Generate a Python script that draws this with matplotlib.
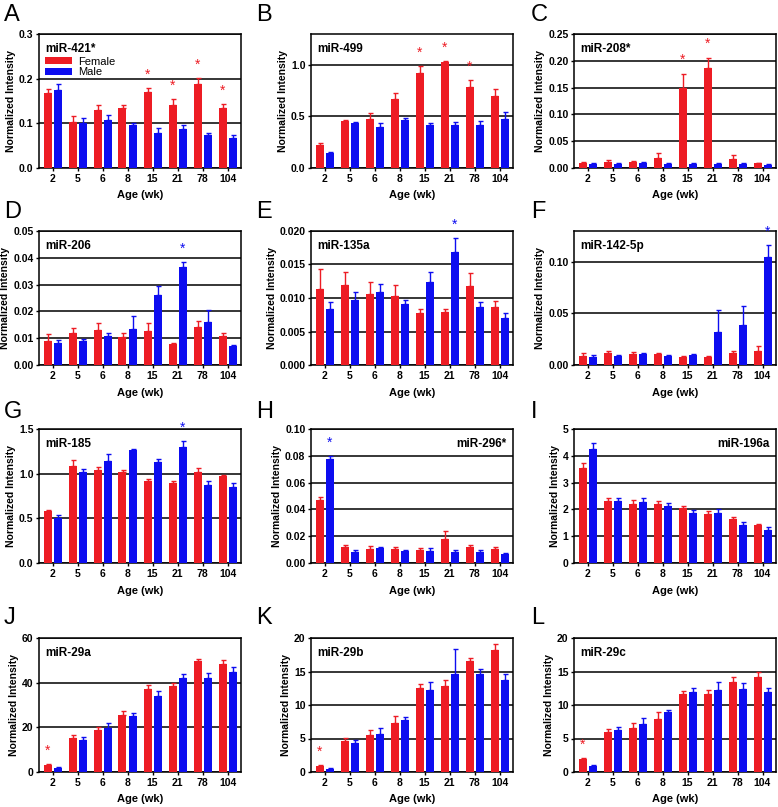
import matplotlib
matplotlib.use("Agg")
import matplotlib.pyplot as plt
import numpy as np

plt.rcParams['font.family'] = ['Liberation Sans', 'DejaVu Sans']

ages = ['2', '5', '6', '8', '15', '21', '78', '104']
letters = ['A', 'B', 'C', 'D', 'E', 'F', 'G', 'H', 'I', 'J', 'K', 'L']
mirnas = ['miR-421*', 'miR-499', 'miR-208*', 'miR-206', 'miR-135a', 'miR-142-5p',
          'miR-185', 'miR-296*', 'miR-196a', 'miR-29a', 'miR-29b', 'miR-29c']

# mean and SEM, female then male
A_f = [0.168, 0.103, 0.129, 0.135, 0.170, 0.140, 0.189, 0.135]
A_f_sem = [0.009, 0.013, 0.013, 0.007, 0.009, 0.014, 0.012, 0.008]
A_m = [0.175, 0.101, 0.107, 0.096, 0.079, 0.087, 0.073, 0.067]
A_m_sem = [0.012, 0.012, 0.012, 0.005, 0.011, 0.009, 0.005, 0.008]

B_f = [0.219, 0.457, 0.476, 0.666, 0.923, 1.029, 0.785, 0.701]
B_f_sem = [0.022, 0.009, 0.061, 0.064, 0.064, 0.006, 0.067, 0.067]
B_m = [0.141, 0.437, 0.395, 0.469, 0.415, 0.421, 0.415, 0.476]
B_m_sem = [0.017, 0.013, 0.045, 0.013, 0.022, 0.023, 0.042, 0.064]

C_f = [0.009, 0.012, 0.011, 0.018, 0.150, 0.186, 0.017, 0.009]
C_f_sem = [0.003, 0.002, 0.002, 0.010, 0.026, 0.020, 0.007, 0.001]
C_m = [0.007, 0.007, 0.009, 0.007, 0.008, 0.007, 0.008, 0.006]
C_m_sem = [0.002, 0.002, 0.002, 0.002, 0.002, 0.002, 0.001, 0.002]

D_f = [0.0089, 0.0119, 0.0129, 0.0104, 0.0126, 0.0080, 0.0143, 0.0108]
D_f_sem = [0.0027, 0.0020, 0.0027, 0.0017, 0.0032, 0.0003, 0.0022, 0.0013]
D_m = [0.0083, 0.0088, 0.0109, 0.0135, 0.0261, 0.0364, 0.0160, 0.0070]
D_m_sem = [0.0011, 0.0008, 0.0011, 0.0046, 0.0033, 0.0020, 0.0045, 0.0006]

E_f = [0.0114, 0.0119, 0.01055, 0.0103, 0.0078, 0.00795, 0.01185, 0.0087]
E_f_sem = [0.0030, 0.0020, 0.0019, 0.0017, 0.0006, 0.00045, 0.0019, 0.00085]
E_m = [0.00835, 0.00965, 0.01085, 0.0091, 0.0124, 0.0168, 0.0087, 0.0070]
E_m_sem = [0.00105, 0.0012, 0.0012, 0.00055, 0.00155, 0.00215, 0.0007, 0.00075]

F_f = [0.009, 0.012, 0.0106, 0.0103, 0.0077, 0.0081, 0.012, 0.0135]
F_f_sem = [0.003, 0.002, 0.002, 0.0017, 0.001, 0.0006, 0.002, 0.0045]
F_m = [0.008, 0.0087, 0.011, 0.009, 0.0094, 0.032, 0.039, 0.105]
F_m_sem = [0.0014, 0.0013, 0.0006, 0.0007, 0.0016, 0.021, 0.018, 0.011]

G_f = [0.578, 1.082, 1.037, 1.022, 0.922, 0.892, 1.022, 0.974]
G_f_sem = [0.015, 0.075, 0.034, 0.023, 0.015, 0.030, 0.041, 0.015]
G_m = [0.507, 1.022, 1.138, 1.261, 1.131, 1.302, 0.869, 0.851]
G_m_sem = [0.027, 0.027, 0.086, 0.015, 0.029, 0.060, 0.049, 0.041]

H_f = [0.047, 0.0118, 0.0108, 0.0105, 0.0098, 0.018, 0.0118, 0.0108]
H_f_sem = [0.002, 0.002, 0.0017, 0.0018, 0.0015, 0.0058, 0.0017, 0.0015]
H_m = [0.0773, 0.0085, 0.011, 0.0088, 0.009, 0.0085, 0.0085, 0.0068]
H_m_sem = [0.0027, 0.0013, 0.0013, 0.001, 0.002, 0.0015, 0.0013, 0.001]

I_f = [3.56, 2.31, 2.22, 2.22, 2.05, 1.81, 1.66, 1.40]
I_f_sem = [0.17, 0.10, 0.13, 0.08, 0.09, 0.12, 0.07, 0.05]
I_m = [4.24, 2.33, 2.28, 2.13, 1.86, 1.88, 1.41, 1.23]
I_m_sem = [0.22, 0.10, 0.13, 0.10, 0.13, 0.12, 0.12, 0.12]

J_f = [3.1, 15.2, 18.7, 25.4, 37.3, 38.7, 49.7, 48.5]
J_f_sem = [0.5, 1.5, 1.4, 1.8, 1.5, 1.2, 1.0, 1.8]
J_m = [1.6, 14.2, 19.7, 25.2, 34.0, 42.2, 42.2, 44.8]
J_m_sem = [0.6, 1.5, 2.1, 1.1, 2.4, 1.8, 2.1, 2.2]

K_f = [0.95, 4.6, 5.5, 7.3, 12.6, 12.8, 16.5, 18.2]
K_f_sem = [0.1, 0.47, 0.7, 1.0, 0.5, 1.0, 0.5, 0.95]
K_m = [0.5, 4.33, 5.7, 7.8, 12.3, 14.6, 14.7, 13.7]
K_m_sem = [0.1, 0.5, 0.8, 0.36, 1.1, 3.7, 0.7, 0.9]

L_f = [1.9, 6.0, 6.6, 7.9, 11.7, 11.6, 13.5, 14.2]
L_f_sem = [0.2, 0.4, 0.7, 1.0, 0.4, 0.7, 0.7, 0.7]
L_m = [0.9, 6.2, 7.1, 9.0, 12.0, 12.3, 12.4, 11.9]
L_m_sem = [0.15, 0.5, 0.96, 0.3, 0.6, 1.1, 0.9, 0.7]

# significant ages (female stars, male stars)
stars_f = [['15', '21', '78', '104'], ['15', '21', '78'], ['15', '21'], [], [], [],
           [], [], [], ['2'], ['2'], ['2']]
stars_m = [[], [], [], ['21'], ['21'], ['104'], ['21'], ['2'], [], [], [], []]

ymax = [0.3, 1.3, 0.25, 0.05, 0.02, 0.13, 1.5, 0.1, 5, 60, 20, 20]
ystep = [0.1, 0.5, 0.05, 0.01, 0.005, 0.05, 0.5, 0.02, 1, 20, 5, 5]
yfmt = ['%.1f', '%.1f', '%.2f', '%.2f', '%.3f', '%.2f', '%.1f', '%.2f', '%d', '%d', '%d', '%d']

female = [A_f, B_f, C_f, D_f, E_f, F_f, G_f, H_f, I_f, J_f, K_f, L_f]
female_sem = [A_f_sem, B_f_sem, C_f_sem, D_f_sem, E_f_sem, F_f_sem, G_f_sem, H_f_sem,
              I_f_sem, J_f_sem, K_f_sem, L_f_sem]
male = [A_m, B_m, C_m, D_m, E_m, F_m, G_m, H_m, I_m, J_m, K_m, L_m]
male_sem = [A_m_sem, B_m_sem, C_m_sem, D_m_sem, E_m_sem, F_m_sem, G_m_sem, H_m_sem,
            I_m_sem, J_m_sem, K_m_sem, L_m_sem]

red = '#ed1c24'
blue = '#0d0df0'

W, H = 778, 807
fig = plt.figure(figsize=(W / 100, H / 100), dpi=100)

col_left = [39, 311, 574]
row_top = [34, 231, 429, 638]
aw, ah = 202, 134
letter_x = [4, 256, 531]
letter_y = [15, 212, 412, 618]

x = np.arange(len(ages))
bw = 0.32
off = 0.2

for i in range(12):
    r, c = divmod(i, 3)
    ax = fig.add_axes([col_left[c] / W, 1 - (row_top[r] + ah) / H, aw / W, ah / H])
    n = len(ages)
    ax.bar(x - off, female[i], bw, color=red, label='Female', zorder=3,
           yerr=[[0] * n, female_sem[i]],
           error_kw=dict(ecolor=red, capsize=1.8, elinewidth=1, capthick=1))
    ax.bar(x + off, male[i], bw, color=blue, label='Male', zorder=3,
           yerr=[[0] * n, male_sem[i]],
           error_kw=dict(ecolor=blue, capsize=1.8, elinewidth=1, capthick=1))

    for a in stars_f[i]:
        k = ages.index(a)
        ax.text(k - off, female[i][k] + female_sem[i][k] + 0.1 * ymax[i], '*',
                color=red, ha='center', va='center', fontsize=10, zorder=4)
    for a in stars_m[i]:
        k = ages.index(a)
        ax.text(k + off, male[i][k] + male_sem[i][k] + 0.1 * ymax[i], '*',
                color=blue, ha='center', va='center', fontsize=10, zorder=4)

    ax.set_xlim(-0.54, 7.54)
    ax.set_ylim(0, ymax[i])
    ax.set_yticks(np.arange(0, ymax[i] + 1e-9, ystep[i]))
    ax.yaxis.set_major_formatter(matplotlib.ticker.FormatStrFormatter(yfmt[i]))
    ax.set_xticks(x)
    ax.set_xticklabels(ages)
    ax.yaxis.grid(True, color='black', lw=1.1)
    ax.set_axisbelow(True)
    for s in ax.spines.values():
        s.set_linewidth(1.1)
    ax.tick_params(axis='both', labelsize=7.5, width=1, length=2.5, pad=1.5)
    ax.tick_params(axis='x', length=2, pad=2)
    for t in ax.get_xticklabels() + ax.get_yticklabels():
        t.set_fontweight('bold')
    ax.set_ylabel('Normalized Intensity', fontsize=7.5, fontweight='bold', labelpad=2)
    ax.set_xlabel('Age (wk)', fontsize=8, fontweight='bold', labelpad=5)

    if letters[i] in ('H', 'I'):
        ax.text(0.97, 0.93, mirnas[i], transform=ax.transAxes, ha='right', va='top',
                fontsize=8.5, fontweight='bold')
    else:
        ax.text(0.03, 0.93, mirnas[i], transform=ax.transAxes, ha='left', va='top',
                fontsize=8.5, fontweight='bold')
    if i == 0:
        ax.legend(loc='upper left', bbox_to_anchor=(0.03, 0.83), frameon=False,
                  fontsize=8, handlelength=2.4, handleheight=0.6, labelspacing=0.05,
                  borderpad=0, handletextpad=0.6, borderaxespad=0)

    fig.text(letter_x[c] / W, 1 - letter_y[r] / H, letters[i], fontsize=17,
             ha='left', va='center')

fig.savefig('out.png', dpi=100)
